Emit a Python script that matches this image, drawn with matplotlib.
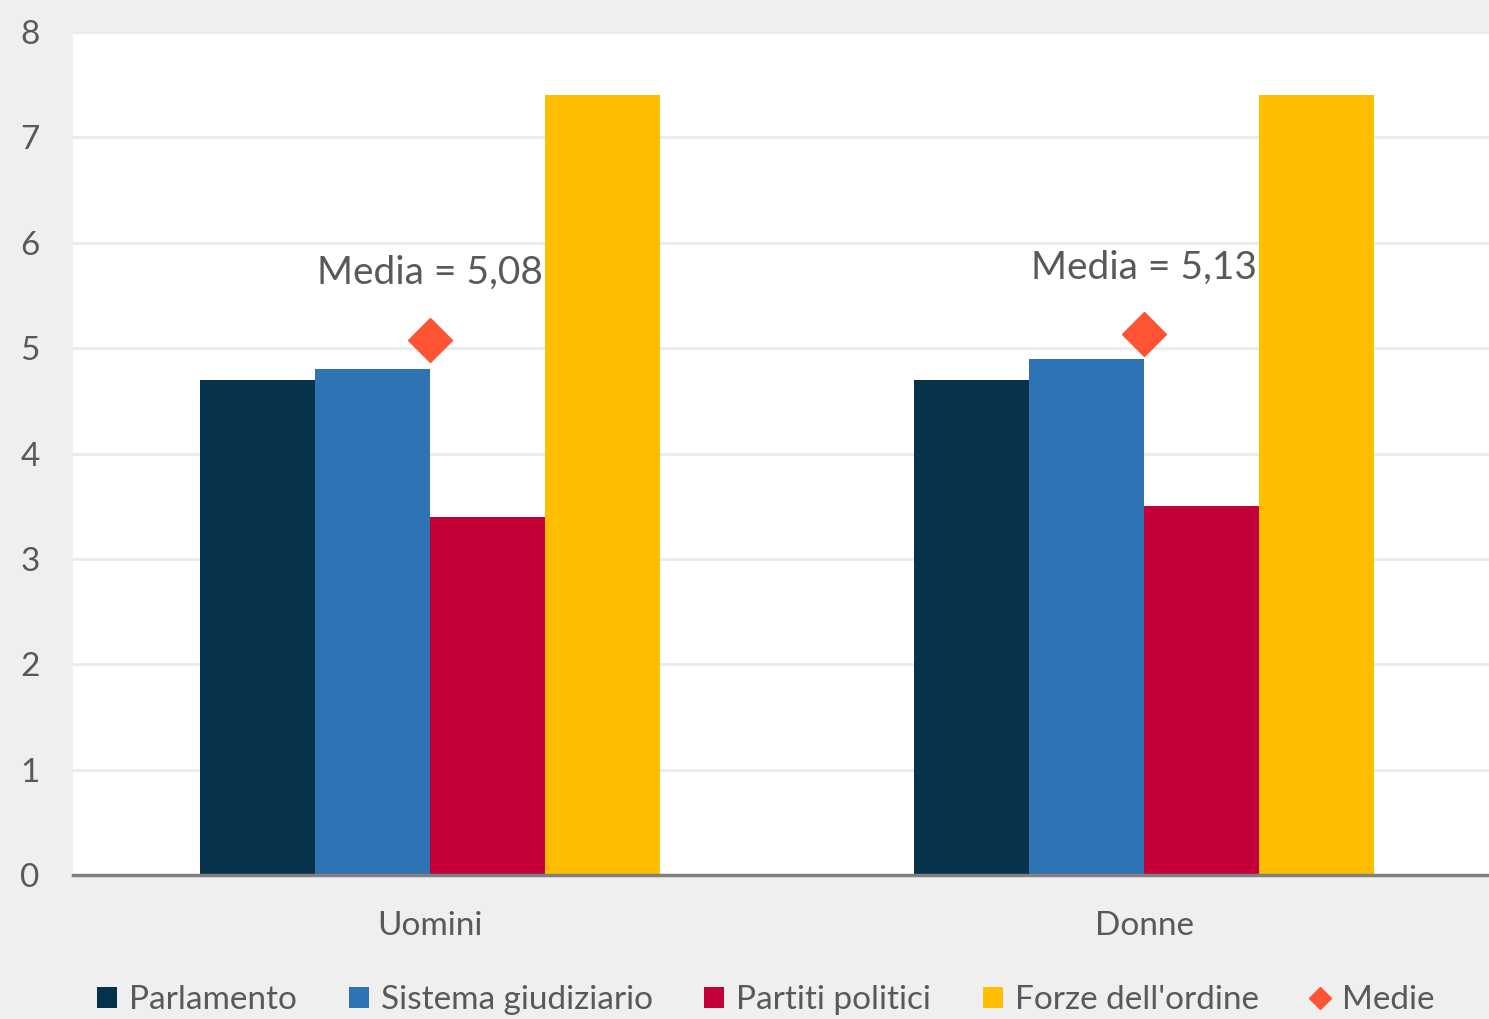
import numpy as np
import matplotlib.pyplot as plt
from matplotlib.patches import Patch
from matplotlib.lines import Line2D

plt.rcParams['font.family'] = ['Lato', 'DejaVu Sans']

gruppi = ['Uomini', 'Donne']
serie = ['Parlamento', 'Sistema giudiziario', 'Partiti politici', "Forze dell'ordine"]
parlamento = [4.7, 4.7]
sistema = [4.8, 4.9]
partiti = [3.4, 3.5]
forze = [7.4, 7.4]
medie = [5.08, 5.13]
etichette_medie = ['Media = 5,08', 'Media = 5,13']

colori = ['#06324B', '#2E73B3', '#C30037', '#FFBF00']
col_media = '#FF5433'
sfondo = '#EFEFEF'

fig = plt.figure(figsize=(14.89, 10.19), dpi=100, facecolor=sfondo)
ax = fig.add_axes([73 / 1489, 144 / 1019, 1416 / 1489, 843 / 1019])
ax.set_facecolor('white')

x = np.arange(len(gruppi))
w = 0.161
valori = [parlamento, sistema, partiti, forze]
for i, (v, c) in enumerate(zip(valori, colori)):
    ax.bar(x + (i - 1.5) * w, v, w, color=c, zorder=3)

ax.plot(x, medie, linestyle='none', marker='D', markersize=22, color=col_media, zorder=4)
for xi, m, t in zip(x, medie, etichette_medie):
    ax.annotate(t, (xi, m), xytext=(0, 67), textcoords='offset pixels',
                ha='center', va='center', fontsize=28, color='#595959')

ax.set_xlim(-0.5, 1.483)
ax.set_ylim(0, 8)
ax.set_yticks(range(0, 9))
ax.set_xticks(x)
ax.set_xticklabels(gruppi)
ax.tick_params(axis='both', length=0, labelsize=24, labelcolor='#595959')
ax.tick_params(axis='y', pad=24)
ax.tick_params(axis='x', pad=26)
ax.grid(axis='y', color='#EBEBEB', linewidth=2, zorder=0)
for s in ['top', 'right', 'left']:
    ax.spines[s].set_visible(False)
ax.spines['bottom'].set_color('#808080')
ax.spines['bottom'].set_linewidth(2.5)
ax.spines['bottom'].set_zorder(5)

handles = [Patch(facecolor=c, label=s) for c, s in zip(colori, serie)]
handles.append(Line2D([], [], linestyle='none', marker='D', markersize=11,
                      color=col_media, label='Medie'))
fig.legend(handles=handles, loc='center', bbox_to_anchor=(766 / 1489, 1 - 1000 / 1019),
           ncol=5, frameon=False, fontsize=24, labelcolor='#595959',
           handlelength=0.6, handleheight=0.6, handletextpad=0.36, columnspacing=1.55)

fig.savefig('out.png', dpi=100, facecolor=sfondo)
